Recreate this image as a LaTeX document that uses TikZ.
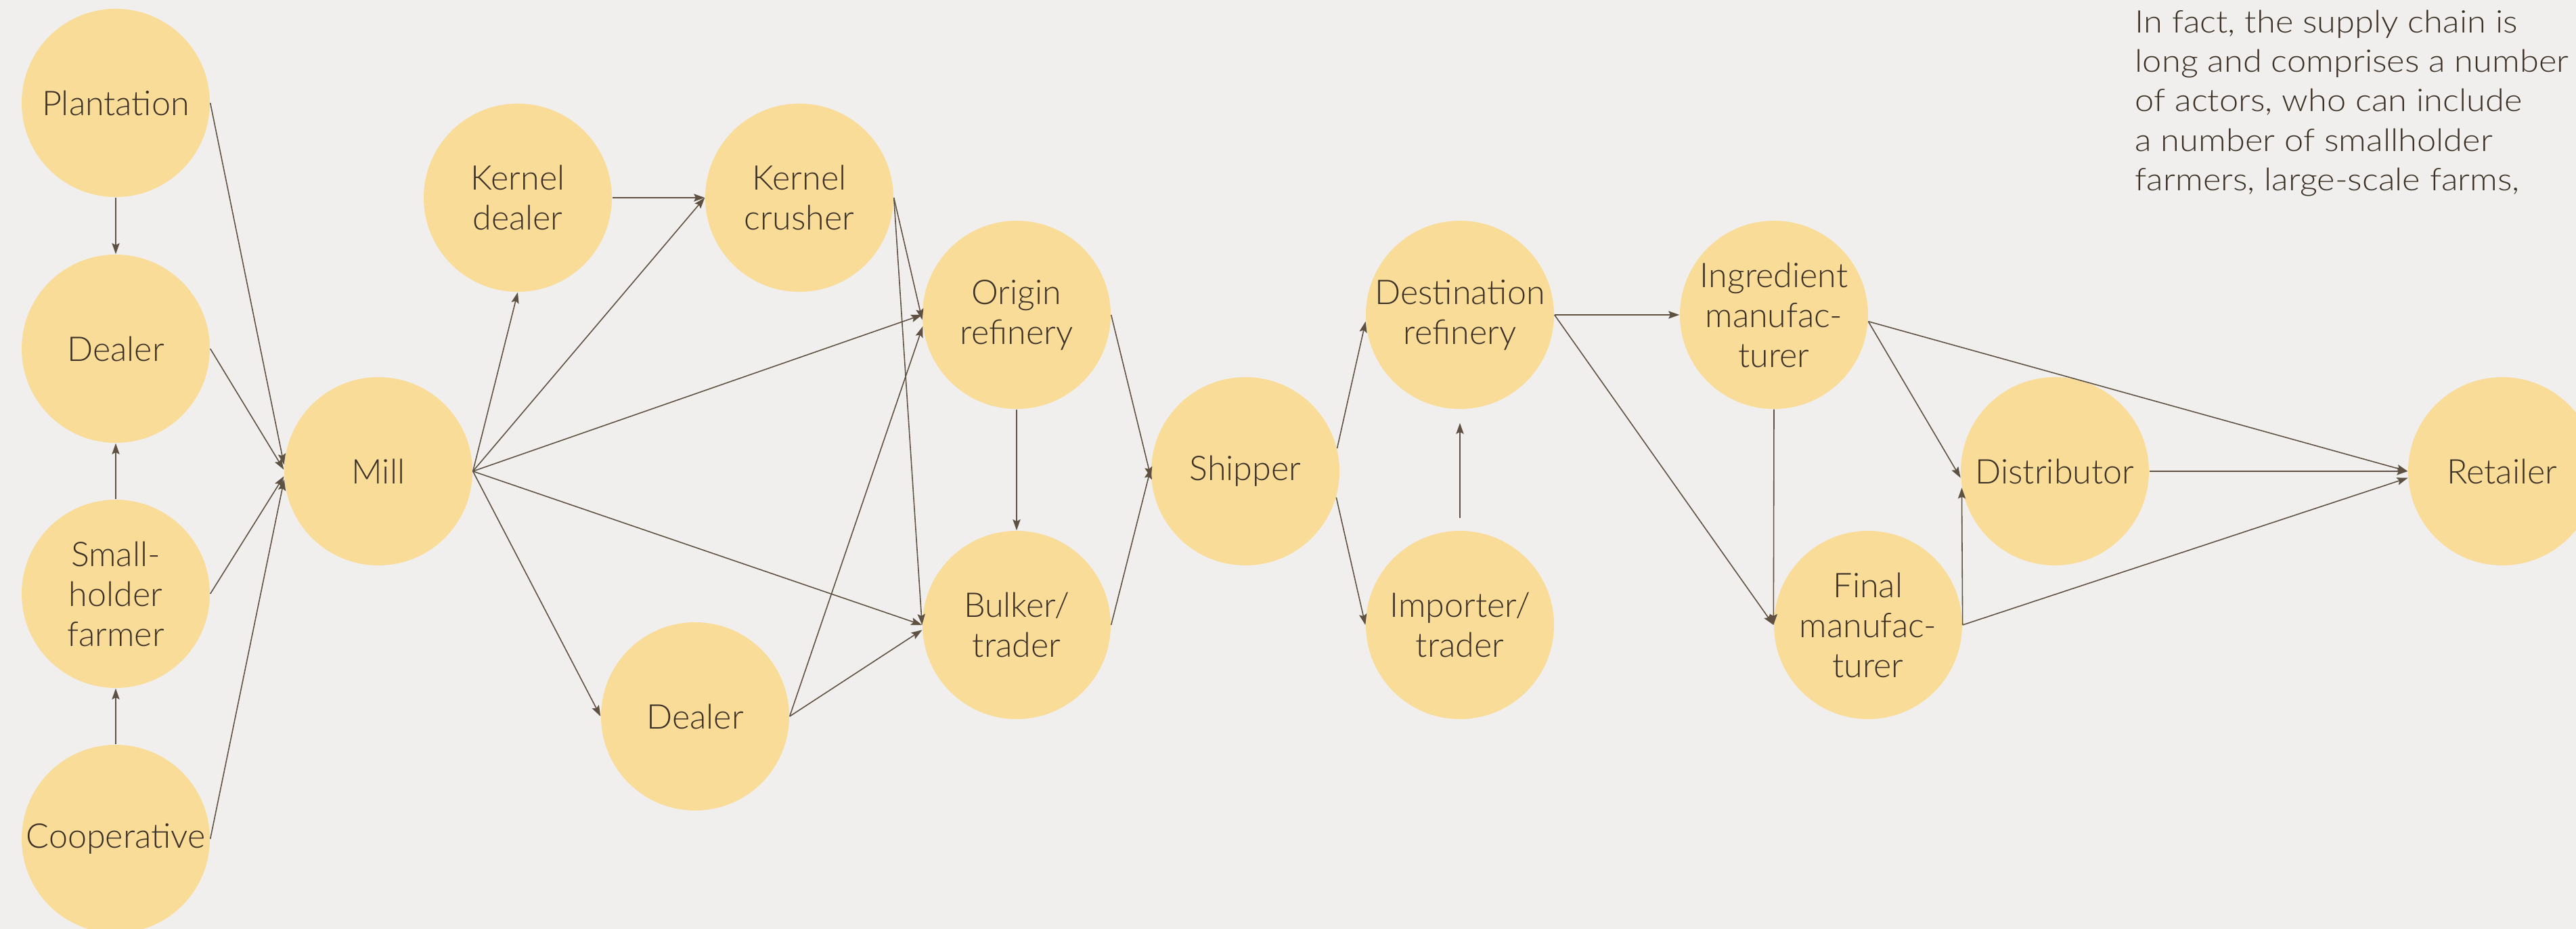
\documentclass[tikz,border=0pt]{standalone}
\usepackage{fontspec}
\setmainfont{Lato}[UprightFont = * Light]
\newfontfamily\blurbfont{Lato}[UprightFont = * Light, FakeStretch = 1.1]
\usepackage{xcolor}
\usepackage{tikz}
\usetikzlibrary{arrows.meta}
\definecolor{paper}{RGB}{240,239,237}
\definecolor{actorfill}{RGB}{250,220,153}
\definecolor{flowline}{RGB}{94,81,66}
\definecolor{ink}{RGB}{58,48,38}
\tikzset{
actor/.style = { circle, fill = actorfill, text = ink, minimum size = 27.8mm, inner sep = 0pt, align = center, font = \fontsize{14.3pt}{16.8pt}\selectfont },
flow/.style = { draw = flowline, line width = 0.45pt, -{Stealth[length = 4.6pt, width = 3.2pt, inset = 0.8pt]} },
note/.style = { anchor = base west, align = left, text = ink, inner sep = 0pt, font = \blurbfont\fontsize{13.1pt}{16.6pt}\selectfont },
}

\begin{document}
\begin{tikzpicture}
    \fill[paper] (0, 0) rectangle (38.06, -13.72);
    \useasboundingbox (0, 0) rectangle (38.06, -13.72);
    % growers
    \node[actor] (plantation) at (1.71, -1.52) {Plantation};
    \node[actor] (dealerA) at (1.71, -5.15) {Dealer};
    \node[actor] (smallholder) at (1.71, -8.77) {Small-\\holder\\farmer};
    \node[actor] (coop) at (1.71, -12.39) {Cooperative};
    % processing
    \node[actor] (mill) at (5.59, -6.96) {Mill};
    \node[actor] (kdealer) at (7.65, -2.92) {Kernel\\dealer};
    \node[actor] (kcrusher) at (11.81, -2.92) {Kernel\\crusher};
    \node[actor] (dealerB) at (10.27, -10.58) {Dealer};
    \node[actor] (origin) at (15.02, -4.65) {Origin\\refinery};
    \node[actor] (bulker) at (15.02, -9.23) {Bulker/\\trader};
    \node[actor] (shipper) at (18.40, -6.96) {Shipper};
    \node[actor] (destref) at (21.57, -4.65) {Destination\\refinery};
    \node[actor] (importer) at (21.57, -9.23) {Importer/\\trader};
    \node[actor] (ingred) at (26.21, -4.65) {Ingredient\\manufac-\\turer};
    \node[actor] (final) at (27.60, -9.23) {Final\\manufac-\\turer};
    \node[actor] (distrib) at (30.36, -6.96) {Distributor};
    \node[actor] (retailer) at (36.97, -6.96) {Retailer};
    % base is the last line
    \node[note] (blurb) at (31.54, -2.815) {In fact, the supply chain is\\long and comprises a number\\of actors, who can include\\a number of smallholder\\farmers, large-scale farms,};

    \draw[flow] (plantation.south) -- (dealerA.north);
    \draw[flow] (smallholder.north) -- (dealerA.south);
    \draw[flow] (coop.north) -- (smallholder.south);
    \draw[flow] (plantation.east) -- (mill.176);
    \draw[flow] (dealerA.east) -- (mill.179);
    \draw[flow] (smallholder.east) -- (mill.183);
    \draw[flow] (coop.east) -- (mill.185);

    \draw[flow] (mill.east) -- (kdealer.south);
    \draw[flow] (mill.east) -- (kcrusher.west);
    \draw[flow] (mill.east) -- (origin.west);
    \draw[flow] (mill.east) -- (bulker.west);
    \draw[flow] (mill.east) -- (dealerB.west);
    \draw[flow] (kdealer.east) -- (kcrusher.west);
    \draw[flow] (kcrusher.east) -- (origin.183);
    \draw[flow] (kcrusher.east) -- (bulker.west);
    \draw[flow] (dealerB.east) -- (origin.187);
    \draw[flow] (dealerB.east) -- (bulker.183);
    \draw[flow] (origin.south) -- (bulker.north);
    \draw[flow] (origin.east) -- (shipper.184);
    \draw[flow] (bulker.east) -- (shipper.178);

    \draw[flow] (shipper.14) -- (destref.184);
    \draw[flow] (shipper.-16) -- (importer.west);
    \draw[flow, shorten <= 1.8mm, shorten >= 2mm] (importer.north) -- (destref.south);
    \draw[flow] (destref.east) -- (ingred.west);
    \draw[flow] (destref.east) -- (final.west);
    \draw[flow] (ingred.south) -- (final.west);
    \draw[flow] (ingred.-4) -- (distrib.184);
    \draw[flow] (ingred.-4) -- (retailer.west);
    \draw[flow] (final.east) -- (distrib.190);
    \draw[flow] (final.east) -- (retailer.184);
    \draw[flow] (distrib.east) -- (retailer.west);
\end{tikzpicture}
\end{document}
